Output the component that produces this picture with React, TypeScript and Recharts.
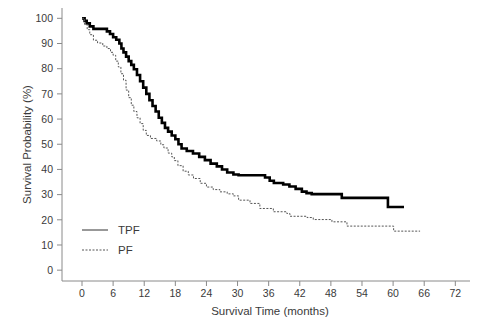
import React from "react";
import { LineChart, Line, XAxis, YAxis, Legend } from "recharts";

// Kaplan-Meier steps (months, % surviving)
const tpfTime = [
  0, 0.5, 0.9, 1.5, 2.2, 4.8, 5.4, 6.0, 6.6, 7.2, 7.6, 8.0, 8.5, 9.0, 9.5,
  10.0, 10.6, 11.2, 11.8, 12.4, 13.0, 13.6, 14.2, 14.8, 15.4, 16.0, 16.6,
  17.3, 18.0, 18.6, 19.2, 20.2, 21.4, 22.6, 23.7, 24.8, 26.0, 27.0, 28.0,
  29.2, 30.2, 35.3, 36.2, 37.0, 38.8, 40.0, 41.2, 42.4, 43.3, 44.3, 50.1,
  59.0, 62.1,
];
const tpfSurv = [
  100, 99, 98, 96.8, 95.8, 94.8, 93.8, 92.5, 91.5, 90, 88, 86.5, 84.8, 83,
  81.5, 79.8, 77.5, 75, 72.5, 70, 67.5, 65.2, 63, 60.5, 58.5, 56.5, 55, 53.5,
  52, 50, 48.3, 47.3, 46.3, 45, 43.7, 42.3, 41.2, 40, 38.8, 38, 37.7, 36.8,
  35.5, 34.6, 34, 33.2, 32.3, 31.2, 30.6, 30.2, 28.7, 25.1, 25.1,
];

const pfTime = [
  0, 0.5, 1.0, 1.5, 2.2, 3.0, 4.0, 4.8, 5.5, 6.0, 6.5, 7.0, 7.5, 8.0, 8.5,
  9.0, 9.5, 10.0, 10.6, 11.2, 11.8, 12.4, 13.2, 14.4, 15.2, 15.8, 16.6, 17.3,
  17.8, 18.5, 19.5, 20.5, 21.5, 22.8, 24.0, 25.3, 26.6, 28.0, 29.2, 30.2,
  32.4, 34.3, 36.9, 39.5, 40.1, 43.4, 44.6, 48.2, 51.1, 60.1, 65.2,
];
const pfSurv = [
  100, 97.5, 95.5, 93.5, 91.3, 90.2, 89, 88, 86.5, 85.3, 83, 80.7, 78, 75.4,
  71.5, 68.5, 65.5, 63, 60.5, 58.2, 55.5, 53.5, 52.3, 51.3, 49.8, 48.5, 46.5,
  45, 43.5, 41.5, 39.3, 37.8, 36.4, 34.5, 33, 32, 31.1, 30.3, 29.5, 27.8,
  26.5, 24.5, 23.2, 22.5, 21.4, 20.9, 20.1, 19.2, 17.5, 15.5, 15.5,
];

const groups = ["TPF", "PF"];
const xTicks = [0, 6, 12, 18, 24, 30, 36, 42, 48, 54, 60, 66, 72];
const yTicks = [0, 10, 20, 30, 40, 50, 60, 70, 80, 90, 100];

const tpfData = tpfTime.map((t, i) => ({ t, s: tpfSurv[i] }));
const pfData = pfTime.map((t, i) => ({ t, s: pfSurv[i] }));

const FONT = "'Liberation Sans', Arial, sans-serif";
const AXIS = "#8a8a8a";
const TEXT = "#3a3a3a";

function KmLegend({ payload }: any) {
  const items = [...(payload || [])].sort(
    (a: any, b: any) => groups.indexOf(a.value) - groups.indexOf(b.value)
  );
  return (
    <div style={{ fontFamily: FONT, fontSize: 11.5, color: TEXT }}>
      {items.map((entry: any) => (
        <div
          key={entry.value}
          style={{ display: "flex", alignItems: "center", height: 20 }}
        >
          <svg width={26} height={4} style={{ marginRight: 10 }}>
            <line
              x1={0}
              y1={2}
              x2={26}
              y2={2}
              stroke={entry.value === "TPF" ? "#333" : "#555"}
              strokeWidth={1}
              strokeDasharray={entry.value === "TPF" ? undefined : "2 1.5"}
            />
          </svg>
          <span>{entry.value}</span>
        </div>
      ))}
    </div>
  );
}

function YTitle({ viewBox }: any) {
  const x = 27;
  const y = viewBox.y + viewBox.height / 2;
  return (
    <text
      x={x}
      y={y}
      transform={`rotate(-90, ${x}, ${y})`}
      textAnchor="middle"
      dominantBaseline="central"
      fontFamily={FONT}
      fontSize={11.5}
      fill={TEXT}
    >
      Survival Probability (%)
    </text>
  );
}

function XTitle({ viewBox }: any) {
  const x = viewBox.x + viewBox.width / 2 + 4;
  return (
    <text
      x={x}
      y={315}
      textAnchor="middle"
      fontFamily={FONT}
      fontSize={11.5}
      fill={TEXT}
    >
      Survival Time (months)
    </text>
  );
}

export default function App() {
  return (
    <div style={{ position: "absolute", left: 0, top: 0, background: "#fff" }}>
      <LineChart
        width={480}
        height={325}
        margin={{ top: 8, right: 10, bottom: 4, left: 2 }}
      >
        <XAxis
          dataKey="t"
          type="number"
          domain={[-3.86, 74.83]}
          ticks={xTicks}
          allowDataOverflow
          height={40}
          stroke={AXIS}
          tickSize={5}
          tickMargin={4}
          tick={{ fill: TEXT, fontSize: 10.5, fontFamily: FONT }}
          label={<XTitle />}
        />
        <YAxis
          type="number"
          domain={[-4.3, 104.1]}
          ticks={yTicks}
          allowDataOverflow
          width={60}
          stroke={AXIS}
          tickSize={5}
          tickMargin={4}
          tick={{ fill: TEXT, fontSize: 10.5, fontFamily: FONT }}
          label={<YTitle />}
        />
        <Legend
          layout="vertical"
          align="center"
          verticalAlign="middle"
          wrapperStyle={{ left: 82, top: 220, width: 100 }}
          content={<KmLegend />}
        />
        <Line
          data={tpfData}
          dataKey="s"
          name="TPF"
          type="stepAfter"
          stroke="#000"
          strokeWidth={2.6}
          dot={false}
          isAnimationActive={false}
        />
        <Line
          data={pfData}
          dataKey="s"
          name="PF"
          type="stepAfter"
          stroke="#555"
          strokeWidth={1}
          strokeDasharray="2 1.5"
          dot={false}
          isAnimationActive={false}
        />
      </LineChart>
    </div>
  );
}
